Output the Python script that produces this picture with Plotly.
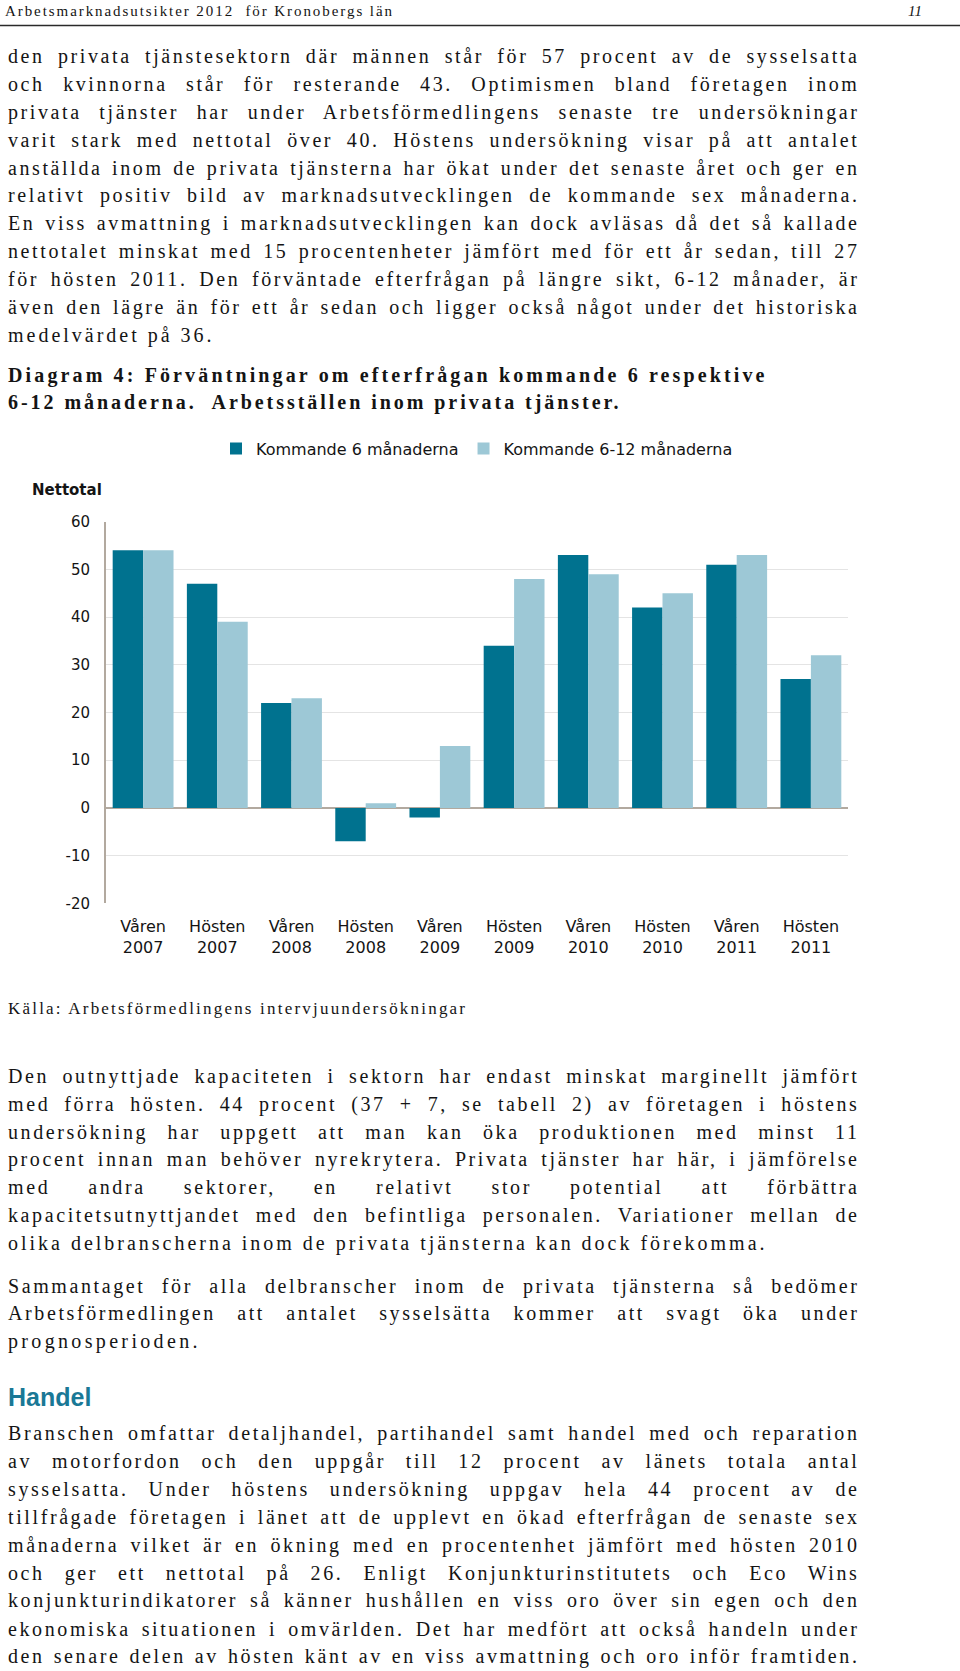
import json
import plotly.graph_objects as go

# ---------------- chart data ----------------
periods = ["Våren 2007", "Hösten 2007", "Våren 2008", "Hösten 2008", "Våren 2009",
           "Hösten 2009", "Våren 2010", "Hösten 2010", "Våren 2011", "Hösten 2011"]
kommande_6 = [54, 47, 22, -7, -2, 34, 53, 42, 51, 27]
kommande_6_12 = [54, 39, 23, 1, 13, 48, 49, 45, 53, 32]
y_ticks = [-20, -10, 0, 10, 20, 30, 40, 50, 60]
series_names = ["Kommande 6 månaderna", "Kommande 6-12 månaderna"]

# ---------------- page text ----------------
header_left = "Arbetsmarknadsutsikter 2012  för Kronobergs län"
header_right = "11"
para1 = [
    "den privata tjänstesektorn där männen står för 57 procent av de sysselsatta",
    "och kvinnorna står för resterande 43. Optimismen bland företagen inom",
    "privata tjänster har under Arbetsförmedlingens senaste tre undersökningar",
    "varit stark med nettotal över 40. Höstens undersökning visar på att antalet",
    "anställda inom de privata tjänsterna har ökat under det senaste året och ger en",
    "relativt positiv bild av marknadsutvecklingen de kommande sex månaderna.",
    "En viss avmattning i marknadsutvecklingen kan dock avläsas då det så kallade",
    "nettotalet minskat med 15 procentenheter jämfört med för ett år sedan, till 27",
    "för hösten 2011. Den förväntade efterfrågan på längre sikt, 6-12 månader, är",
    "även den lägre än för ett år sedan och ligger också något under det historiska",
    "medelvärdet på 36.",
]
heading = [
    "Diagram 4: Förväntningar om efterfrågan kommande 6 respektive",
    "6-12 månaderna.  Arbetsställen inom privata tjänster.",
]
source = "Källa: Arbetsförmedlingens intervjuundersökningar"
para2 = [
    "Den outnyttjade kapaciteten i sektorn har endast minskat marginellt jämfört",
    "med förra hösten. 44 procent (37 + 7, se tabell 2) av företagen i höstens",
    "undersökning har uppgett att man kan öka produktionen med minst 11",
    "procent innan man behöver nyrekrytera. Privata tjänster har här, i jämförelse",
    "med andra sektorer, en relativt stor potential att förbättra",
    "kapacitetsutnyttjandet med den befintliga personalen. Variationer mellan de",
    "olika delbranscherna inom de privata tjänsterna kan dock förekomma.",
]
para3 = [
    "Sammantaget för alla delbranscher inom de privata tjänsterna så bedömer",
    "Arbetsförmedlingen att antalet sysselsätta kommer att svagt öka under",
    "prognosperioden.",
]
section_title = "Handel"
para4 = [
    "Branschen omfattar detaljhandel, partihandel samt handel med och reparation",
    "av motorfordon och den uppgår till 12 procent av länets totala antal",
    "sysselsatta. Under höstens undersökning uppgav hela 44 procent av de",
    "tillfrågade företagen i länet att de upplevt en ökad efterfrågan de senaste sex",
    "månaderna vilket är en ökning med en procentenhet jämfört med hösten 2010",
    "och ger ett nettotal på 26. Enligt Konjunkturinstitutets och Eco Wins",
    "konjunkturindikatorer så känner hushållen en viss oro över sin egen och den",
    "ekonomiska situationen i omvärlden. Det har medfört att också handeln under",
    "den senare delen av hösten känt av en viss avmattning och oro inför framtiden.",
]

# ---------------- layout constants ----------------
W, H = 960, 1671
DARK = "#00728f"
LIGHT = "#9dc8d6"
AXIS = "#b2a99f"
GRID = "#e4e4e4"
TXT = "#141414"
SERIF = "Liberation Serif"
SANS = "DejaVu Sans"
LEFT = 7.5
RIGHT = 859.0


def px(x):
    return x / W


def py(y):
    return 1 - y / H


fig = go.Figure()
fig.add_trace(go.Bar(x=periods, y=kommande_6, name=series_names[0],
                     marker=dict(color=DARK, line=dict(width=0))))
fig.add_trace(go.Bar(x=periods, y=kommande_6_12, name=series_names[1],
                     marker=dict(color=LIGHT, line=dict(width=0))))

annotations = []
specs = []


def add_text(text, x, y, size, family=SERIF, color=TXT, width=None, justify=False,
             ls=0.0, weight="normal", style="normal", xanchor="left"):
    idx = len(annotations)
    annotations.append(dict(
        text=text, x=px(x), y=py(y), xref="paper", yref="paper",
        xanchor=xanchor, yanchor="middle", align="left", showarrow=False,
        borderpad=0, borderwidth=0,
        font=dict(family=family, size=size, color=color, weight=weight, style=style),
    ))
    if width is not None:
        specs.append(dict(i=idx, w=width, j=justify, ls=ls))


# header
add_text(header_left, 5.3, 11, 15, width=387)
add_text(header_right, 915, 11, 15, style="italic", xanchor="center")

BODY = 20
LS = 2.6
FULLW = RIGHT - LEFT


def add_para(lines, y0, step, last_width, last_justify=False):
    for k, line in enumerate(lines):
        last = k == len(lines) - 1
        if last and not last_justify:
            add_text(line, LEFT, y0 + k * step, BODY, width=last_width)
        else:
            add_text(line, LEFT, y0 + k * step, BODY, width=FULLW, justify=True, ls=LS)


add_para(para1, 56.5, 27.9, 203.5)
add_text(heading[0], LEFT, 375.5, 20, weight="bold", width=756.5)
add_text(heading[1], LEFT, 402.0, 20, weight="bold", width=610.5)
add_text("Nettotal", 32, 490, 15, family=SANS, weight="bold")
add_text(source, LEFT, 1009, 17, width=457)
add_para(para2, 1076.2, 27.9, 756.5)
add_para(para3, 1286.0, 27.75, 189.5)
add_text(section_title, LEFT, 1397, 25, family="Liberation Sans", color="#1a7896", weight="bold")
add_para(para4, 1433.1, 27.98, FULLW, last_justify=True)

fig.update_layout(
    width=W, height=H,
    margin=dict(l=0, r=0, t=0, b=0, pad=0, autoexpand=False),
    paper_bgcolor="white", plot_bgcolor="white",
    barmode="group", bargap=0.18, bargroupgap=0,
    font=dict(family=SANS, color=TXT),
    showlegend=True,
    legend=dict(orientation="h", x=px(216), y=py(448.6), xanchor="left", yanchor="middle",
                font=dict(family=SANS, size=16, color=TXT), bgcolor="rgba(0,0,0,0)",
                traceorder="normal"),
    xaxis=dict(domain=[px(106), px(848)], showline=False, showgrid=False, zeroline=False,
               ticks="", tickvals=periods, ticktext=[p.replace(" ", "<br>") for p in periods],
               tickfont=dict(family=SANS, size=16, color=TXT), ticklabelstandoff=12),
    yaxis=dict(domain=[py(903.3), py(521.7)], range=[-20, 60],
               tickvals=y_ticks, ticktext=[str(v) for v in y_ticks],
               showgrid=True, gridcolor=GRID, gridwidth=1,
               showline=True, linecolor=AXIS, linewidth=2,
               zeroline=True, zerolinecolor=AXIS, zerolinewidth=2,
               ticks="", ticklabelstandoff=11,
               tickfont=dict(family=SANS, size=15, color=TXT)),
    annotations=annotations,
    shapes=[dict(type="line", xref="paper", yref="paper", x0=0, x1=1,
                 y0=py(25.6), y1=py(25.6), line=dict(color="#2a2a2a", width=1.5))],
)

post_js = """
document.body.style.margin = '0';
document.body.style.padding = '0';
document.documentElement.style.overflow = 'hidden';
var gd = document.getElementById('{plot_id}');
var specs = %s;
specs.forEach(function(s){
  var t = gd.querySelector('g.annotation[data-index="' + s.i + '"] text.annotation-text');
  if (!t) return;
  if (s.j) {
    t.style.letterSpacing = s.ls + 'px';
    var w = t.getComputedTextLength();
    var n = (t.textContent.match(/ /g) || []).length;
    if (w < s.w && n > 0) {
      t.style.wordSpacing = ((s.w - w) / n) + 'px';
    } else {
      t.style.letterSpacing = '';
      t.setAttribute('textLength', s.w);
      t.setAttribute('lengthAdjust', 'spacing');
    }
  } else {
    t.setAttribute('textLength', s.w);
    t.setAttribute('lengthAdjust', 'spacing');
  }
});
""" % json.dumps(specs)

fig.write_html("out.html", post_script=post_js, config={"displayModeBar": False})
